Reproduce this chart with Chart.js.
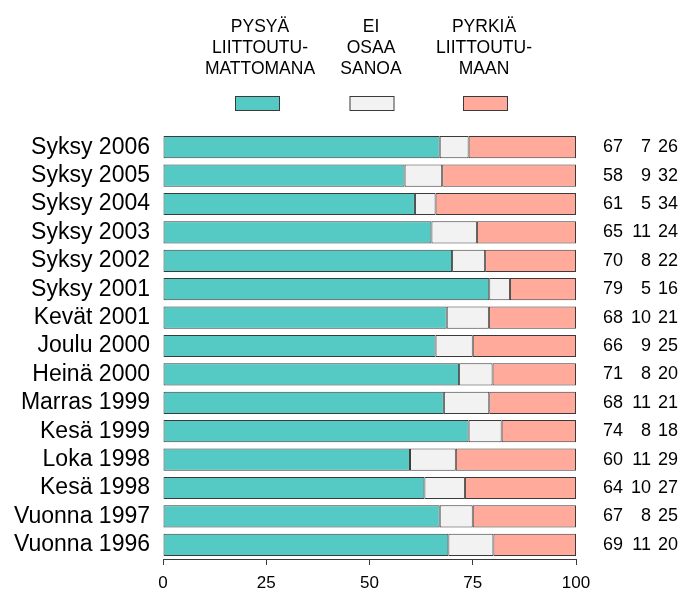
<!DOCTYPE html>
<html>
<head>
<meta charset="utf-8">
<script src="https://cdn.jsdelivr.net/npm/chart.js@4/dist/chart.umd.min.js"></script>
<style>
  body { margin: 0; background: #fff; }
  canvas { display: block; }
</style>
</head>
<body>
<canvas id="chart" width="691" height="591"></canvas>
<script>
// categories, top to bottom
const categories = [
  "Syksy 2006", "Syksy 2005", "Syksy 2004", "Syksy 2003", "Syksy 2002",
  "Syksy 2001", "Kevät 2001", "Joulu 2000", "Heinä 2000", "Marras 1999",
  "Kesä 1999", "Loka 1998", "Kesä 1998", "Vuonna 1997", "Vuonna 1996"
];

// bar lengths
const pysya = [67, 58.5, 61, 65, 70, 79, 68.7, 66, 71.7, 68, 74, 59.8, 63.3, 67, 69.1];
const eiOsaa = [7, 9.1, 5, 11, 8, 5, 10.2, 9, 8.1, 11, 8, 11.1, 9.8, 8, 10.9];
const pyrkia = [26, 32.4, 34, 24, 22, 16, 21.1, 25, 20.2, 21, 18, 29.1, 26.9, 25, 20];

// printed numbers on the right
const numPysya = [67, 58, 61, 65, 70, 79, 68, 66, 71, 68, 74, 60, 64, 67, 69];
const numEi = [7, 9, 5, 11, 8, 5, 10, 9, 8, 11, 8, 11, 10, 8, 11];
const numPyrkia = [26, 32, 34, 24, 22, 16, 21, 25, 20, 21, 18, 29, 27, 25, 20];

const xTicks = [0, 25, 50, 75, 100];

const legendLabels = [
  ["PYSYÄ", "LIITTOUTU-", "MATTOMANA"],
  ["EI", "OSAA", "SANOA"],
  ["PYRKIÄ", "LIITTOUTU-", "MAAN"]
];

const colors = ["#55c9c4", "#f2f2f2", "#ffaa9b"];
const edge = "#3a3a3a";
const font = "'Liberation Sans', Arial, sans-serif";

//legend and number columns
const extras = {
  id: "extras",
  afterDraw(chart) {
    const ctx = chart.ctx;
    const yScale = chart.scales.y;
    ctx.save();
    ctx.fillStyle = "#000";

    // legend
    const legX = [260, 371, 484];
    const boxX = [257, 371.5, 485];
    ctx.font = "17.5px " + font;
    ctx.textAlign = "center";
    ctx.textBaseline = "middle";
    legendLabels.forEach((lines, i) => {
      lines.forEach((ln, j) => {
        ctx.fillText(ln, legX[i], 27 + j * 21);
      });
      ctx.fillStyle = colors[i];
      ctx.fillRect(boxX[i] - 22, 96, 44, 14);
      ctx.strokeStyle = edge;
      ctx.lineWidth = 1;
      ctx.strokeRect(boxX[i] - 22 + 0.5, 96.5, 44, 14);
      ctx.fillStyle = "#000";
    });

    // numbers
    ctx.font = "18px " + font;
    ctx.textAlign = "right";
    categories.forEach((c, i) => {
      const y = yScale.getPixelForValue(i);
      ctx.fillText(String(numPysya[i]), 623, y);
      ctx.fillText(String(numEi[i]), 651, y);
      ctx.fillText(String(numPyrkia[i]), 678, y);
    });
    ctx.restore();
  }
};

const ds = (label, data, color) => ({
  label,
  data,
  backgroundColor: color,
  borderColor: edge,
  borderWidth: 1,
  borderSkipped: false,
  barPercentage: 0.78,
  categoryPercentage: 1
});

new Chart(document.getElementById("chart"), {
  type: "bar",
  data: {
    labels: categories,
    datasets: [
      ds(legendLabels[0].join(" "), pysya, colors[0]),
      ds(legendLabels[1].join(" "), eiOsaa, colors[1]),
      ds(legendLabels[2].join(" "), pyrkia, colors[2])
    ]
  },
  options: {
    indexAxis: "y",
    responsive: false,
    animation: false,
    layout: { padding: { top: 133, right: 115, left: 0, bottom: 0 } },
    plugins: {
      legend: { display: false },
      tooltip: { enabled: false }
    },
    scales: {
      x: {
        stacked: true,
        min: 0,
        max: 100,
        afterBuildTicks: (s) => { s.ticks = xTicks.map((v) => ({ value: v })); },
        afterFit: (s) => { s.height = 32; },
        grid: { drawOnChartArea: false, drawTicks: true, tickLength: 6, color: edge },
        border: { display: true, color: edge, width: 1 },
        ticks: { color: "#000", font: { family: font, size: 17 }, padding: 8, maxRotation: 0 }
      },
      y: {
        stacked: true,
        afterFit: (s) => { s.width = 163; },
        grid: { display: false, drawTicks: false },
        border: { display: false },
        ticks: { color: "#000", font: { family: font, size: 23 }, padding: 13, autoSkip: false }
      }
    }
  },
  plugins: [extras]
});
</script>
</body>
</html>
